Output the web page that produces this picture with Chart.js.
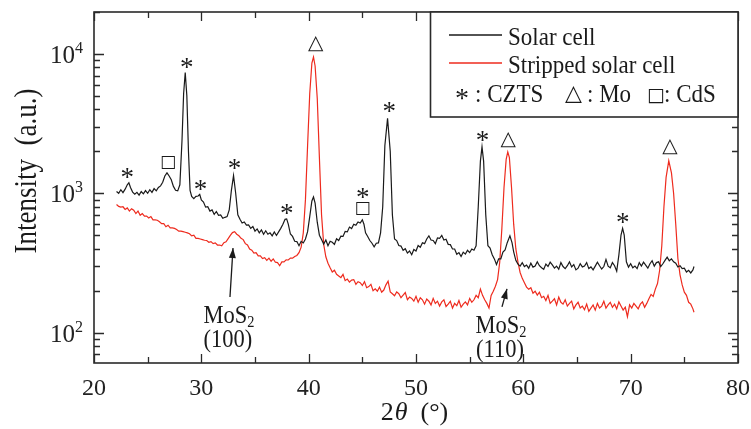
<!DOCTYPE html>
<html>
<head>
<meta charset="utf-8">
<script src="https://cdn.jsdelivr.net/npm/chart.js@4.4.0/dist/chart.umd.min.js"></script>
<style>
  html, body { margin: 0; padding: 0; background: #fff; }
  #wrap { width: 751px; height: 429px; }
</style>
</head>
<body>
<div id="wrap"><canvas id="xrd" width="751" height="429"></canvas></div>
<script>
// axis ticks
const xTicks = [20, 30, 40, 50, 60, 70, 80];
const yTicks = [100, 1000, 10000];
const seriesNames = ['Solar cell', 'Stripped solar cell'];

// [2theta, intensity]
const solarCell = [
  [22.1,1030],[22.3,1000],[22.5,1060],[22.7,1010],[22.9,1070],[23.1,1150],[23.25,1190],[23.4,1100],[23.6,1020],[23.8,985],
  [24.0,1015],[24.2,970],[24.4,1030],[24.6,990],[24.8,1045],[25.0,1000],[25.2,1060],[25.4,1015],[25.6,1080],[25.8,1040],
  [26.0,1100],[26.2,1130],[26.4,1200],[26.6,1330],[26.8,1400],[27.0,1330],[27.2,1250],[27.4,1120],[27.6,1050],[27.8,1040],
  [28.0,1150],[28.2,2400],[28.35,5200],[28.5,7350],[28.65,5000],[28.8,2000],[28.95,1050],[29.1,950],[29.3,915],[29.5,950],
  [29.7,955],[29.85,980],[30.0,895],[30.2,865],[30.4,795],[30.6,800],[30.8,745],[31.0,760],[31.2,705],[31.4,740],
  [31.6,695],[31.8,700],[32.0,662],[32.2,672],[32.4,680],[32.6,760],[32.8,1050],[33.0,1340],[33.2,1000],[33.4,700],
  [33.6,650],[33.8,612],[34.0,622],[34.2,590],[34.4,592],[34.6,560],[34.8,578],[35.0,535],[35.2,555],[35.4,520],
  [35.6,545],[35.8,508],[36.0,538],[36.2,508],[36.4,520],[36.6,495],[36.8,528],[37.0,498],[37.2,528],[37.4,560],
  [37.6,600],[37.8,650],[37.95,655],[38.1,600],[38.3,510],[38.5,490],[38.7,452],[38.9,450],[39.1,420],[39.3,452],
  [39.5,440],[39.7,470],[39.9,530],[40.1,680],[40.3,880],[40.45,940],[40.6,850],[40.8,620],[41.0,500],[41.2,465],
  [41.4,432],[41.6,462],[41.8,420],[42.0,452],[42.2,445],[42.4,430],[42.6,472],[42.8,458],[43.0,492],[43.2,490],
  [43.4,532],[43.6,528],[43.8,572],[44.0,558],[44.2,600],[44.4,590],[44.6,622],[44.8,612],[45.0,645],[45.15,600],
  [45.3,520],[45.5,490],[45.7,458],[45.9,438],[46.1,412],[46.3,438],[46.5,440],[46.7,520],[46.9,800],[47.1,2200],
  [47.35,3450],[47.6,2000],[47.8,700],[48.0,470],[48.2,458],[48.4,422],[48.6,418],[48.8,390],[49.0,400],[49.2,372],
  [49.4,385],[49.6,362],[49.8,395],[50.0,385],[50.2,422],[50.4,410],[50.6,442],[50.8,435],[51.0,470],[51.2,495],
  [51.4,462],[51.6,458],[51.8,435],[52.0,478],[52.2,475],[52.4,498],[52.6,462],[52.8,468],[53.0,430],[53.2,428],
  [53.4,398],[53.6,398],[53.8,365],[54.0,375],[54.2,352],[54.4,378],[54.6,366],[54.8,390],[55.0,375],[55.2,398],
  [55.4,390],[55.6,420],[55.8,800],[56.0,1700],[56.15,2150],[56.3,1700],[56.5,700],[56.7,420],[56.9,405],[57.1,362],
  [57.3,338],[57.5,308],[57.7,338],[57.9,338],[58.1,378],[58.3,392],[58.5,442],[58.75,495],[58.95,440],[59.1,380],
  [59.3,330],[59.5,310],[59.7,300],[59.9,318],[60.1,298],[60.3,305],[60.5,290],[60.7,315],[60.9,295],[61.1,300],
  [61.3,322],[61.5,302],[61.7,292],[61.9,285],[62.1,310],[62.3,298],[62.5,320],[62.7,306],[62.9,290],[63.1,300],
  [63.3,285],[63.5,318],[63.7,298],[63.9,288],[64.1,302],[64.3,322],[64.5,296],[64.7,308],[64.9,282],[65.1,290],
  [65.3,312],[65.5,296],[65.7,300],[65.9,318],[66.1,288],[66.3,296],[66.5,282],[66.7,300],[66.9,320],[67.1,302],
  [67.3,286],[67.5,298],[67.7,335],[67.9,300],[68.1,292],[68.3,318],[68.5,302],[68.7,276],[68.9,360],[69.1,500],
  [69.25,560],[69.4,500],[69.6,322],[69.8,295],[70.0,312],[70.2,292],[70.4,300],[70.6,288],[70.8,318],[71.0,300],
  [71.2,320],[71.4,305],[71.6,290],[71.8,312],[72.0,328],[72.2,300],[72.4,318],[72.6,322],[72.8,298],[73.0,312],
  [73.2,330],[73.4,348],[73.6,328],[73.8,338],[74.0,322],[74.2,315],[74.4,296],[74.6,302],[74.8,288],[75.0,290],
  [75.2,272],[75.4,280],[75.6,268],[75.8,282],[75.9,298]
];

const strippedCell = [
  [22.1,830],[22.3,805],[22.5,795],[22.7,800],[22.9,765],[23.1,785],[23.3,745],[23.5,775],[23.7,755],[23.9,715],
  [24.1,745],[24.3,695],[24.5,715],[24.7,685],[24.9,685],[25.1,665],[25.3,680],[25.5,645],[25.7,645],[25.9,640],
  [26.1,625],[26.3,605],[26.5,605],[26.7,575],[26.9,590],[27.1,565],[27.3,565],[27.5,560],[27.7,550],[27.9,535],
  [28.1,535],[28.3,530],[28.5,525],[28.7,520],[28.9,512],[29.1,495],[29.3,500],[29.5,475],[29.7,475],[29.9,470],
  [30.1,465],[30.3,460],[30.5,458],[30.7,445],[30.9,450],[31.1,435],[31.3,440],[31.5,425],[31.7,425],[31.9,420],
  [32.1,442],[32.3,448],[32.5,472],[32.7,498],[32.9,522],[33.1,530],[33.3,508],[33.5,495],[33.7,475],[33.9,465],
  [34.1,435],[34.3,425],[34.5,398],[34.7,390],[34.9,372],[35.1,375],[35.3,355],[35.5,355],[35.7,340],[35.9,345],
  [36.1,330],[36.3,342],[36.5,325],[36.7,338],[36.9,320],[37.1,318],[37.3,302],[37.5,322],[37.7,322],[37.9,333],
  [38.1,332],[38.3,343],[38.5,342],[38.7,352],[38.9,358],[39.1,375],[39.3,410],[39.5,520],[39.7,900],[39.9,2200],
  [40.1,5200],[40.3,8600],[40.45,9500],[40.6,8200],[40.8,4800],[41.0,1800],[41.2,700],[41.4,430],[41.6,350],[41.8,315],
  [42.0,292],[42.2,272],[42.4,280],[42.6,262],[42.8,255],[43.0,248],[43.2,262],[43.4,236],[43.6,242],[43.8,230],
  [44.0,238],[44.2,240],[44.4,222],[44.6,232],[44.8,228],[45.0,218],[45.2,232],[45.4,210],[45.6,214],[45.8,222],
  [46.0,200],[46.2,206],[46.4,198],[46.6,212],[46.8,195],[47.0,202],[47.2,220],[47.4,234],[47.6,196],[47.8,190],
  [48.0,184],[48.2,196],[48.4,190],[48.6,178],[48.8,186],[49.0,194],[49.2,172],[49.4,180],[49.6,176],[49.8,168],
  [50.0,182],[50.2,165],[50.4,178],[50.6,172],[50.8,160],[51.0,174],[51.2,168],[51.4,158],[51.6,176],[51.8,162],
  [52.0,168],[52.2,155],[52.4,166],[52.6,172],[52.8,154],[53.0,160],[53.2,168],[53.4,150],[53.6,162],[53.8,156],
  [54.0,170],[54.2,152],[54.4,160],[54.6,166],[54.8,158],[55.0,176],[55.2,165],[55.4,172],[55.6,185],[55.8,178],
  [56.0,205],[56.2,185],[56.4,172],[56.6,162],[56.8,150],[57.0,185],[57.2,198],[57.4,215],[57.6,240],[57.8,320],
  [58.0,560],[58.2,1100],[58.4,1750],[58.55,1980],[58.7,1800],[58.9,1100],[59.1,600],[59.3,400],[59.5,320],[59.7,270],
  [59.9,245],[60.1,228],[60.3,212],[60.5,205],[60.7,210],[60.9,192],[61.1,198],[61.3,186],[61.5,195],[61.7,178],
  [61.9,182],[62.1,170],[62.3,185],[62.5,162],[62.7,168],[62.9,175],[63.1,158],[63.3,180],[63.5,165],[63.7,160],
  [63.9,172],[64.1,155],[64.3,162],[64.5,168],[64.7,148],[64.9,158],[65.1,165],[65.3,150],[65.5,155],[65.7,146],
  [65.9,160],[66.1,142],[66.3,150],[66.5,158],[66.7,145],[66.9,162],[67.1,150],[67.3,155],[67.5,168],[67.7,150],
  [67.9,158],[68.1,165],[68.3,152],[68.5,160],[68.7,148],[68.9,166],[69.1,155],[69.3,145],[69.5,152],[69.7,130],
  [69.9,158],[70.1,150],[70.3,162],[70.5,155],[70.7,148],[70.9,160],[71.1,166],[71.3,152],[71.5,162],[71.7,175],
  [71.9,188],[72.1,182],[72.3,205],[72.5,225],[72.7,280],[72.9,420],[73.1,800],[73.3,1300],[73.55,1710],[73.8,1400],
  [74.0,1000],[74.2,600],[74.4,340],[74.6,260],[74.8,220],[75.0,195],[75.2,185],[75.4,165],[75.6,160],[75.8,148],
  [75.9,140]
];

// phase markers: symbol, 2theta, intensity (text centre)
const peakMarks = [
  ['*', 23.1, 1405], ['\u25A1', 26.9, 1660], ['*', 28.64, 8670], ['*', 29.93, 1150],
  ['*', 33.1, 1620], ['*', 37.95, 770], ['\u25B3', 40.66, 11900], ['*', 45.03, 1010],
  ['\u25A1', 45.03, 780], ['*', 47.5, 4180], ['*', 56.2, 2580], ['\u25B3', 58.6, 2410],
  ['*', 69.26, 668], ['\u25B3', 73.67, 2140]
];

// MoS2 notes: label, arrow tail [2theta, I], arrow tip [2theta, I]
const mosNotes = [
  ['(100)', [32.67, 180], [32.95, 405]],
  ['(110)', [58.01, 153], [58.48, 206]]
];

const SERIF = "'Liberation Serif', 'Times New Roman', serif";
const SYMBOL = "'DejaVu Sans', sans-serif";
const INK = '#1a1a1a';
const RED = '#ee2b1e';

// text squeezed/stretched horizontally, like the source figure
function squeezeText(ctx, text, x, y, sx) {
  ctx.save();
  ctx.translate(x, y);
  ctx.scale(sx, 1);
  ctx.fillText(text, 0, 0);
  ctx.restore();
}

const decor = {
  id: 'decor',
  afterDatasetsDraw(chart) {
    const ctx = chart.ctx;
    const a = chart.chartArea;
    const xs = chart.scales.x, ys = chart.scales.y;
    ctx.save();
    ctx.strokeStyle = INK;
    ctx.fillStyle = INK;

    // peak markers
    peakMarks.forEach(([sym, tt, inten]) => {
      const px = xs.getPixelForValue(tt), py = ys.getPixelForValue(inten);
      ctx.textAlign = 'center';
      if (sym === '*') {
        ctx.font = '27px ' + SERIF;
        ctx.textBaseline = 'alphabetic';
        ctx.fillText('*', px, py + 13);
      } else {
        ctx.font = (sym === '\u25B3' ? '20px ' : '17px ') + SYMBOL;
        ctx.textBaseline = 'middle';
        ctx.fillText(sym, px, py);
      }
    });

    // MoS2 notes with arrows
    mosNotes.forEach(([hkl, tail, tip]) => {
      const x0 = xs.getPixelForValue(tail[0]), y0 = ys.getPixelForValue(tail[1]);
      const x1 = xs.getPixelForValue(tip[0]), y1 = ys.getPixelForValue(tip[1]);
      ctx.lineWidth = 1.3;
      ctx.beginPath(); ctx.moveTo(x0, y0); ctx.lineTo(x1, y1); ctx.stroke();
      const ang = Math.atan2(y1 - y0, x1 - x0);
      ctx.beginPath();
      ctx.moveTo(x1, y1);
      ctx.lineTo(x1 - 10 * Math.cos(ang) + 3.5 * Math.sin(ang), y1 - 10 * Math.sin(ang) - 3.5 * Math.cos(ang));
      ctx.lineTo(x1 - 10 * Math.cos(ang) - 3.5 * Math.sin(ang), y1 - 10 * Math.sin(ang) + 3.5 * Math.cos(ang));
      ctx.closePath(); ctx.fill();
      ctx.textBaseline = 'alphabetic';
      ctx.textAlign = 'left';
      const sx = 0.9;
      ctx.font = '25px ' + SERIF;
      const w = ctx.measureText('MoS').width * sx;
      ctx.font = '16px ' + SERIF;
      const w2 = ctx.measureText('2').width * sx;
      const lx = x0 - 1 - (w + w2) / 2;
      ctx.font = '25px ' + SERIF;
      squeezeText(ctx, 'MoS', lx, y0 + 26, sx);
      ctx.font = '16px ' + SERIF;
      squeezeText(ctx, '2', lx + w, y0 + 30, sx);
      ctx.font = '25px ' + SERIF;
      ctx.textAlign = 'center';
      squeezeText(ctx, hkl, x0 - 2, y0 + 50, sx);
    });

    // frame
    ctx.lineWidth = 1.6;
    ctx.strokeStyle = '#2a2a2a';
    ctx.strokeRect(a.left, a.top, a.right - a.left, a.bottom - a.top);

    // x ticks (inward, bottom and top)
    ctx.lineWidth = 1.3;
    for (let v = xs.min; v <= xs.max; v += 5) {
      const px = Math.round(xs.getPixelForValue(v)) + 0.5;
      const len = xTicks.includes(v) ? 9 : 6;
      ctx.beginPath();
      ctx.moveTo(px, a.bottom); ctx.lineTo(px, a.bottom - len);
      ctx.moveTo(px, a.top); ctx.lineTo(px, a.top + len);
      ctx.stroke();
    }
    // y ticks (log, inward, left and right)
    for (let dec = 10; dec <= 10000; dec *= 10) {
      for (let m = 1; m <= 9; m++) {
        const v = dec * m;
        if (v < ys.min || v > ys.max) continue;
        const py = Math.round(ys.getPixelForValue(v)) + 0.5;
        const len = yTicks.includes(v) ? 10 : 6;
        ctx.beginPath();
        ctx.moveTo(a.left, py); ctx.lineTo(a.left + len, py);
        ctx.moveTo(a.right, py); ctx.lineTo(a.right - len, py);
        ctx.stroke();
      }
    }

    // tick labels
    ctx.fillStyle = '#222';
    ctx.font = '24px ' + SERIF;
    ctx.textAlign = 'center';
    ctx.textBaseline = 'alphabetic';
    xTicks.forEach(v => ctx.fillText(String(v), xs.getPixelForValue(v), a.bottom + 32));
    yTicks.forEach(v => {
      const py = ys.getPixelForValue(v);
      const exp = String(Math.round(Math.log10(v)));
      ctx.font = '16px ' + SERIF;
      const ew = ctx.measureText(exp).width;
      ctx.textAlign = 'left';
      ctx.fillText(exp, a.left - 11 - ew, py - 1);
      ctx.font = '25px ' + SERIF;
      ctx.textAlign = 'right';
      ctx.fillText('10', a.left - 11 - ew, py + 9);
    });

    // axis titles
    ctx.fillStyle = INK;
    ctx.textAlign = 'left';
    ctx.font = '26px ' + SERIF;
    const t1 = '2', t3 = '  (\u00B0)';
    const w1 = ctx.measureText(t1).width, w3 = ctx.measureText(t3).width;
    ctx.font = 'italic 26px ' + SERIF;
    const w2 = ctx.measureText('\u03B8').width;
    const tx = (a.left + a.right) / 2 - 2 - (w1 + w2 + w3) / 2;
    ctx.font = '26px ' + SERIF;
    ctx.fillText(t1, tx, 420);
    ctx.font = 'italic 26px ' + SERIF;
    ctx.fillText('\u03B8', tx + w1 + 1, 420);
    ctx.font = '26px ' + SERIF;
    ctx.fillText(t3, tx + w1 + w2 + 1, 420);

    ctx.save();
    ctx.translate(36, 171);
    ctx.scale(1.15, 1);
    ctx.rotate(-Math.PI / 2);
    ctx.textAlign = 'center';
    ctx.font = '27px ' + SERIF;
    ctx.fillText('Intensity  (a.u.)', 0, 0);
    ctx.restore();

    // legend box
    const lx = 430.5, ly = a.top, lw = a.right - 430.5, lh = 105;
    ctx.fillStyle = '#fff';
    ctx.fillRect(lx, ly, lw, lh);
    ctx.lineWidth = 1.6;
    ctx.strokeStyle = '#2a2a2a';
    ctx.strokeRect(lx, ly, lw, lh);
    const rows = [[INK, 35], [RED, 63]];
    ctx.textAlign = 'left';
    ctx.textBaseline = 'alphabetic';
    rows.forEach(([col, yy], i) => {
      ctx.strokeStyle = col;
      ctx.lineWidth = 1.3;
      ctx.beginPath(); ctx.moveTo(449, yy); ctx.lineTo(502, yy); ctx.stroke();
      ctx.fillStyle = INK;
      ctx.font = '25px ' + SERIF;
      squeezeText(ctx, seriesNames[i], 508, yy + 10, 0.92);
    });
    // phase key row
    ctx.fillStyle = INK;
    ctx.font = '28px ' + SERIF;
    ctx.fillText('*', 455, 107);
    ctx.font = '25px ' + SERIF;
    squeezeText(ctx, ': CZTS', 475, 102, 0.92);
    ctx.font = '22px ' + SYMBOL;
    ctx.fillText('\u25B3', 565, 100);
    ctx.font = '25px ' + SERIF;
    squeezeText(ctx, ': Mo', 587, 102, 0.92);
    ctx.font = '19px ' + SYMBOL;
    ctx.fillText('\u25A1', 647, 101);
    ctx.font = '25px ' + SERIF;
    squeezeText(ctx, ': CdS', 664, 102, 0.92);
    ctx.restore();
  }
};

new Chart(document.getElementById('xrd'), {
  type: 'line',
  data: {
    datasets: [
      {
        label: seriesNames[0],
        data: solarCell.map(p => ({ x: p[0], y: p[1] })),
        borderColor: INK,
        borderWidth: 1.2,
        pointRadius: 0,
        tension: 0,
        fill: false
      },
      {
        label: seriesNames[1],
        data: strippedCell.map(p => ({ x: p[0], y: p[1] })),
        borderColor: RED,
        borderWidth: 1.2,
        pointRadius: 0,
        tension: 0,
        fill: false
      }
    ]
  },
  options: {
    responsive: false,
    animation: false,
    layout: { padding: { left: 94, right: 13, top: 12, bottom: 66 } },
    scales: {
      x: { type: 'linear', min: 20, max: 80, display: false },
      y: { type: 'logarithmic', min: 60.5, max: 20000, display: false }
    },
    plugins: {
      legend: { display: false },
      tooltip: { enabled: false }
    }
  },
  plugins: [decor]
});
</script>
</body>
</html>
